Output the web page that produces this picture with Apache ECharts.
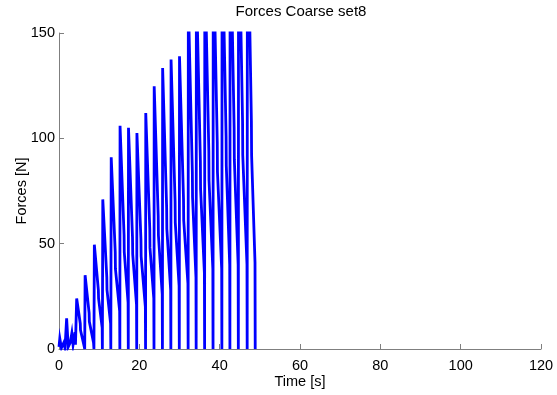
<!DOCTYPE html>
<html>
<head>
<meta charset="utf-8">
<script src="https://cdn.jsdelivr.net/npm/echarts@6/dist/echarts.min.js"></script>
<style>
  html, body { margin: 0; padding: 0; background: #fff; }
  #chart { width: 557px; height: 395px; }
</style>
</head>
<body>
<div id="chart"></div>
<script>
// Sampled time stamps [s]
const timeSec = [
  0.0, 0.2, 0.6, 1.2, 1.5, 1.9, 2.3, 2.8, 3.2, 3.5, 4.0, 4.1,
  4.4, 5.3, 5.35, 6.3, 6.4,
  6.5, 7.5, 7.55, 8.6, 8.7,
  8.8, 9.8, 9.85, 10.75, 10.8,
  10.9, 11.9, 11.95, 12.85, 12.9,
  13.0, 14.0, 14.05, 15.1, 15.15,
  15.2, 16.2, 16.25, 17.2, 17.25,
  17.3, 18.3, 18.35, 19.3, 19.35,
  19.4, 20.4, 20.45, 21.5, 21.55,
  21.6, 22.6, 22.65, 23.6, 23.65,
  23.7, 24.7, 24.75, 25.7, 25.75,
  25.8, 26.8, 26.85, 27.8, 27.85,
  27.9, 28.9, 28.95, 29.9, 29.95,
  30.0, 31.0, 31.05, 32.1, 32.15,
  32.2, 33.2, 33.25, 34.1, 34.15,
  34.2, 35.2, 35.25, 36.2, 36.25,
  36.3, 37.3, 37.35, 38.3, 38.35,
  38.4, 39.4, 39.45, 40.5, 40.55,
  40.6, 41.6, 41.65, 42.5, 42.55,
  42.6, 43.6, 43.65, 44.6, 44.65,
  44.7, 45.7, 45.75, 46.8, 46.85,
  46.9, 47.9, 47.95, 48.8, 48.85
];

// Measured force [N]
const forceN = [
  1, 5, 0.5, 3, 0.5, 14.6, 1, 3, 7.5, 2, 8, 2,
  24, 12, 9, 1, 0,
  35, 17, 13, 3, 0,
  49.5, 28, 24, 10, 0,
  71, 34, 28, 12, 0,
  91, 46, 38, 18, 0,
  106, 54, 46, 22, 0,
  105, 53, 45, 21, 0,
  102.5, 52, 44, 20, 0,
  112, 57, 48, 24, 0,
  124.7, 63, 54, 26, 0,
  133.4, 67, 57, 28, 0,
  137.4, 70, 60, 30, 0,
  139, 71, 61, 31, 0,
  165, 84, 72, 34, 0,
  175, 89, 76, 36, 0,
  185, 94, 80, 38, 0,
  195, 98, 84, 38, 0,
  200, 101, 87, 40, 0,
  210, 105, 90, 40, 0,
  215, 108, 92, 40, 0,
  220, 108, 92, 41, 0
];

const xTicks = [0, 20, 40, 60, 80, 100, 120];
const yTicks = [0, 50, 100, 150];

const points = timeSec.map((t, i) => [t, forceN[i]]);

const axisGrey = '#7f7f7f';
const font = 'Liberation Sans, Arial, Helvetica, sans-serif';

const chart = echarts.init(document.getElementById('chart'), null, { renderer: 'canvas' });
chart.setOption({
  animation: false,
  backgroundColor: '#ffffff',
  title: {
    text: 'Forces Coarse set8',
    left: 301,
    top: 4,
    padding: 0,
    textAlign: 'center',
    textStyle: { fontFamily: font, fontSize: 15, fontWeight: 'normal', color: '#000' }
  },
  grid: {
    left: 59, right: 16, top: 33, bottom: 46,
    containLabel: false,
    outerBoundsMode: 'none'
  },
  xAxis: {
    type: 'value',
    min: xTicks[0],
    max: xTicks[xTicks.length - 1],
    interval: 20,
    name: 'Time [s]',
    nameLocation: 'middle',
    nameGap: 25,
    nameMoveOverlap: false,
    nameTextStyle: { fontFamily: font, fontSize: 14.5, color: '#000' },
    axisLine: { show: true, lineStyle: { color: axisGrey, width: 1 } },
    axisTick: { show: true, inside: true, length: 5, lineStyle: { color: axisGrey } },
    axisLabel: { fontFamily: font, fontSize: 14.5, color: '#000', margin: 9 },
    splitLine: { show: false }
  },
  yAxis: {
    type: 'value',
    min: yTicks[0],
    max: yTicks[yTicks.length - 1],
    interval: 50,
    name: 'Forces [N]',
    nameLocation: 'middle',
    nameGap: 30,
    nameMoveOverlap: false,
    nameTextStyle: { fontFamily: font, fontSize: 14.5, color: '#000' },
    axisLine: { show: true, lineStyle: { color: axisGrey, width: 1 } },
    axisTick: { show: true, inside: true, length: 5, lineStyle: { color: axisGrey } },
    axisLabel: { fontFamily: font, fontSize: 14.5, color: '#000', margin: 4 },
    splitLine: { show: false }
  },
  series: [{
    type: 'line',
    data: points,
    showSymbol: false,
    clip: true,
    lineStyle: { color: '#0000ff', width: 2.8, join: 'miter' },
    itemStyle: { color: '#0000ff' }
  }]
});
</script>
</body>
</html>
